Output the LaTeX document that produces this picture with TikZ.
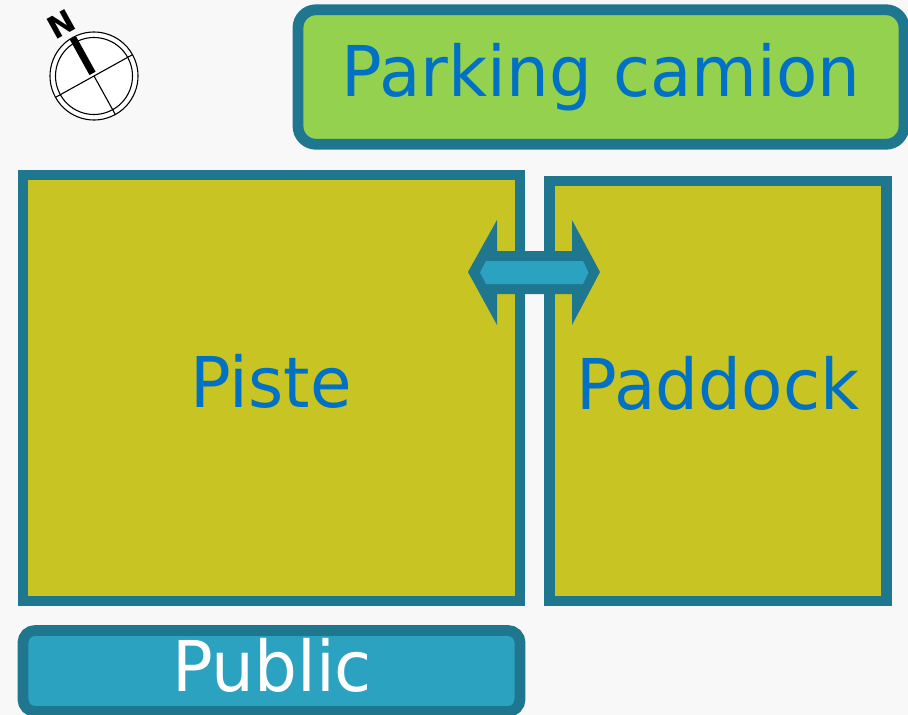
\documentclass[tikz,border=0pt]{standalone}
\usepackage{fontspec}
\setmainfont[FakeStretch=0.965]{DejaVu Sans}
\newfontfamily\northfont{DejaVu Sans}
\definecolor{bg}{HTML}{F8F8F8}
\definecolor{edge}{HTML}{1F778F}
\definecolor{olive}{HTML}{C7C423}
\definecolor{lawn}{HTML}{93D14F}
\definecolor{textblue}{HTML}{0071C5}
\definecolor{sky}{HTML}{2CA2C1}
\tikzset{
  zone/.style={draw=edge,line width=10.8pt,fill=olive,inner sep=0pt,outer sep=0pt,rectangle},
  lab/.style={anchor=base,inner sep=0pt,font=\fontsize{70}{84}\selectfont,text=textblue},
  thin ring/.style={draw=black,line width=1.1pt},
}
\begin{document}
\begin{tikzpicture}[x=1pt,y=-1pt]
\useasboundingbox (0,0) rectangle (908,715);
\clip (0,0) rectangle (908,715);
\fill[bg] (0,0) rectangle (908,715);
% boxes
\node[zone,rounded corners=18pt,fill=lawn,minimum width=606pt,minimum height=134.5pt] (parking) at (601,77) {};
\node[zone,minimum width=497pt,minimum height=426pt] (piste) at (271.5,388) {};
\node[zone,minimum width=337.5pt,minimum height=420pt] (paddock) at (718,391) {};
\node[zone,rounded corners=12pt,fill=sky,minimum width=497pt,minimum height=81pt] (public) at (271.5,671) {};
% labels
\node[lab] (tparking) at (601,96) {Parking camion};
\node[lab] (tpiste) at (271,407) {Piste};
\node[lab] (tpaddock) at (718,409) {Paddock};
\node[lab,text=white] (tpublic) at (272,691) {Public};
% double arrow
\fill[edge] (468,272) -- (497,220) -- (497,251) -- (572,251) -- (572,220) -- (600,272) -- (572,325) -- (572,294) -- (497,294) -- (497,325) -- cycle;
\fill[sky] (480,272.5) -- (486,261) -- (583,261) -- (588.5,272.5) -- (583,284) -- (486,284) -- cycle;
% compass
\begin{scope}[shift={(94,76)},rotate=29]
  \fill[white] (0,0) circle (44);
  \draw[thin ring] (0,0) circle (44);
  \draw[thin ring] (0,0) circle (38.5);
  \draw[line width=1.1pt] (-44,0) -- (44,0);
  \draw[line width=1.1pt] (0,0) -- (0,44);
  \draw[line width=7pt] (0,-3) -- (0,-43.5);
\end{scope}
\node[inner sep=0pt,rotate=29,font=\northfont\fontsize{31}{36}\selectfont\bfseries] (north) at (61,24.5) {N};
\end{tikzpicture}
\end{document}
